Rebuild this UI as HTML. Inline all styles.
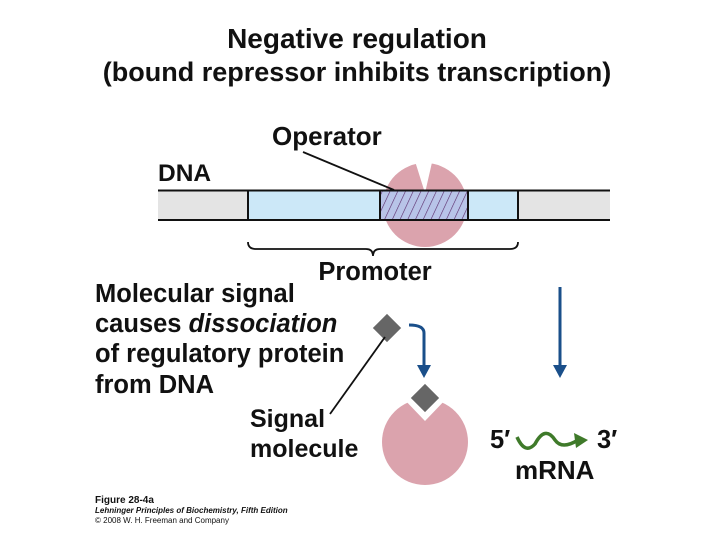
<!DOCTYPE html>
<html><head><style>body{margin:0;background:#fff}svg{display:block}</style></head><body>
<svg width="720" height="540" viewBox="0 0 720 540" font-family="Liberation Sans, sans-serif">
<defs>
<pattern id="h" width="7" height="7" patternUnits="userSpaceOnUse" patternTransform="rotate(25)">
<rect width="7" height="7" fill="#b8c4e8"/><line x1="0" y1="0" x2="0" y2="7" stroke="#5a2a6a" stroke-width="1.2"/></pattern>
</defs>
<text x="357" y="48" text-anchor="middle" font-size="28" font-weight="bold" fill="#111">Negative regulation</text>
<text x="357" y="81" text-anchor="middle" font-size="27" font-weight="bold" fill="#111">(bound repressor inhibits transcription)</text>
<!-- repressor on DNA -->
<circle cx="425" cy="205" r="42" fill="#dba3ad"/>
<path d="M414,158 L425,193 L433,158 Z" fill="#fff"/>
<rect x="158" y="191" width="452" height="29" fill="#e4e4e4"/>
<rect x="248" y="191" width="270" height="29" fill="#cce8f8"/>
<rect x="380" y="191" width="88" height="29" fill="url(#h)"/>
<line x1="158" y1="190.5" x2="610" y2="190.5" stroke="#111" stroke-width="2"/>
<line x1="158" y1="220" x2="610" y2="220" stroke="#111" stroke-width="2"/>
<g stroke="#111" stroke-width="2"><line x1="248" y1="190" x2="248" y2="220"/><line x1="380" y1="190" x2="380" y2="220"/><line x1="468" y1="190" x2="468" y2="220"/><line x1="518" y1="190" x2="518" y2="220"/></g>
<text x="272" y="145" font-size="26" font-weight="bold" fill="#111">Operator</text>
<line x1="303" y1="152" x2="394" y2="190" stroke="#111" stroke-width="1.8"/>
<text x="158" y="181" font-size="24.5" font-weight="bold" fill="#111">DNA</text>
<path d="M248,242 Q248,249 256,249 L366,249 Q373,249 373,256 Q373,249 380,249 L510,249 Q518,249 518,242" fill="none" stroke="#111" stroke-width="1.8"/>
<text x="375" y="280" text-anchor="middle" font-size="25.5" font-weight="bold" fill="#111">Promoter</text>
<g font-size="25.5" font-weight="bold" fill="#111">
<text x="95" y="302">Molecular signal</text>
<text x="95" y="332">causes <tspan font-style="italic">dissociation</tspan></text>
<text x="95" y="362">of regulatory protein</text>
<text x="95" y="393">from DNA</text>
<text x="250" y="427" font-size="25">Signal</text>
<text x="250" y="457" font-size="25">molecule</text>
<text x="490" y="448">5′</text>
<text x="597" y="448">3′</text>
<text x="515" y="479" font-size="26">mRNA</text>
</g>
<!-- signal molecule -->
<rect x="377" y="318" width="20" height="20" fill="#666" transform="rotate(45 387 328)"/>
<line x1="330" y1="414" x2="385" y2="337" stroke="#111" stroke-width="1.8"/>
<!-- blue inhibit/arrow -->
<path d="M409,325 Q424,325 424,333 L424,368" fill="none" stroke="#1a4f8a" stroke-width="3"/>
<path d="M417,365 L431,365 L424,378 Z" fill="#1a4f8a"/>
<line x1="560" y1="287" x2="560" y2="368" stroke="#1a4f8a" stroke-width="3"/>
<path d="M553,365 L567,365 L560,378 Z" fill="#1a4f8a"/>
<!-- free repressor -->
<circle cx="425" cy="442" r="43" fill="#dba3ad"/>
<path d="M402,397 L425,421 L448,397 Z" fill="#fff"/>
<rect x="415" y="388" width="20" height="20" fill="#666" transform="rotate(45 425 398)"/>
<!-- mRNA -->
<path d="M517,437 Q525,455 535,444 Q545,425 555,440 Q562,450 578,440" fill="none" stroke="#3f7a2a" stroke-width="3.5"/>
<path d="M574,433 L588,440 L576,448 Z" fill="#3f7a2a"/>
<g fill="#111">
<text x="95" y="503" font-size="10" font-weight="bold">Figure 28-4a</text>
<text x="95" y="513" font-size="8" font-style="italic" font-weight="bold">Lehninger Principles of Biochemistry, Fifth Edition</text>
<text x="95" y="523" font-size="8">© 2008 W. H. Freeman and Company</text>
</g>
</svg>
</body></html>
